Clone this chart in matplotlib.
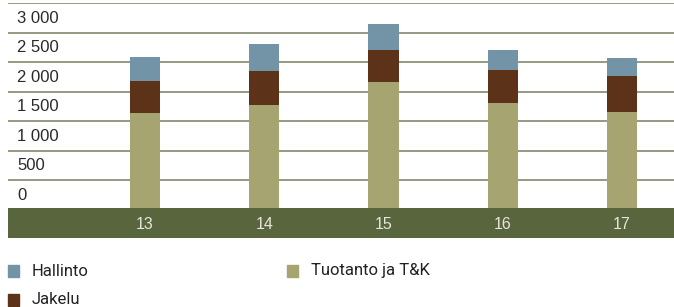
import matplotlib
matplotlib.use("Agg")
import matplotlib.pyplot as plt
from matplotlib.patches import Rectangle
from matplotlib import font_manager

# data
years = ["13", "14", "15", "16", "17"]
tuotanto = [1645, 1775, 2170, 1810, 1655]
jakelu = [540, 580, 545, 560, 615]
hallinto = [410, 460, 440, 340, 305]
yticks = [0, 500, 1000, 1500, 2000, 2500, 3000]
ytick_labels = ["0", "500", "1 000", "1 500", "2 000", "2 500", "3 000"]
series_names = ["Hallinto", "Jakelu", "Tuotanto ja T&K"]

c_hall = "#7394a6"
c_jak = "#5c3319"
c_tuo = "#a6a470"
c_band = "#59653c"
c_grid = "#8e9278"

names = {f.name for f in font_manager.fontManager.ttflist}
legend_font = "Liberation Sans Narrow" if "Liberation Sans Narrow" in names else "Roboto"
plt.rcParams["font.family"] = ["Liberation Sans", "DejaVu Sans"]

W, H = 674, 307
fig = plt.figure(figsize=(W / 100, H / 100), dpi=100)

def fx(px):
    return px / W

def fy(py):
    return 1 - py / H

# axes: x from 8px to right edge, 0 at y=209.5px, 3500 at y=3.3px
ax = fig.add_axes([fx(8), fy(209.5), fx(666), (209.5 - 3.3) / H])
ax.set_xlim(-1.149, 4.436)
ax.set_ylim(0, 3500)
ax.axis("off")

for v in range(500, 3501, 500):
    ax.axhline(v, color=c_grid, lw=1.3, zorder=1)

x = range(len(years))
w = 0.252
b2 = [a + b for a, b in zip(tuotanto, jakelu)]
ax.bar(x, tuotanto, width=w, color=c_tuo, zorder=2)
ax.bar(x, jakelu, width=w, bottom=tuotanto, color=c_jak, zorder=2)
ax.bar(x, hallinto, width=w, bottom=b2, color=c_hall, zorder=2)

for v, lab in zip(yticks, ytick_labels):
    ax.annotate(lab, xy=(0, v), xycoords=("axes fraction", "data"),
                xytext=(6.5, 5.0), textcoords="offset points",
                ha="left", va="bottom", fontsize=12, color="#2a2a2a")

# dark green band with year labels
band = fig.add_axes([fx(8), fy(237.5), fx(666), 29.8 / H])
band.set_xlim(ax.get_xlim())
band.set_ylim(0, 1)
band.set_facecolor(c_band)
band.set_xticks([])
band.set_yticks([])
for s in band.spines.values():
    s.set_visible(False)
for i, yr in enumerate(years):
    band.text(i, 0.45, yr, ha="center", va="center", color="#e6e6dc", fontsize=11.5)

# legend
leg = [(series_names[0], c_hall, 8, 271), (series_names[1], c_jak, 8, 300),
       (series_names[2], c_tuo, 287, 271)]
for name, col, px, py in leg:
    fig.patches.append(Rectangle((fx(px), fy(py + 6)), fx(11), 12 / H,
                                 transform=fig.transFigure, color=col))
    fig.text(fx(px + 24), fy(py), name, ha="left", va="center",
             fontsize=12, family=legend_font, color="#222222")

fig.savefig("out.png", dpi=100)
